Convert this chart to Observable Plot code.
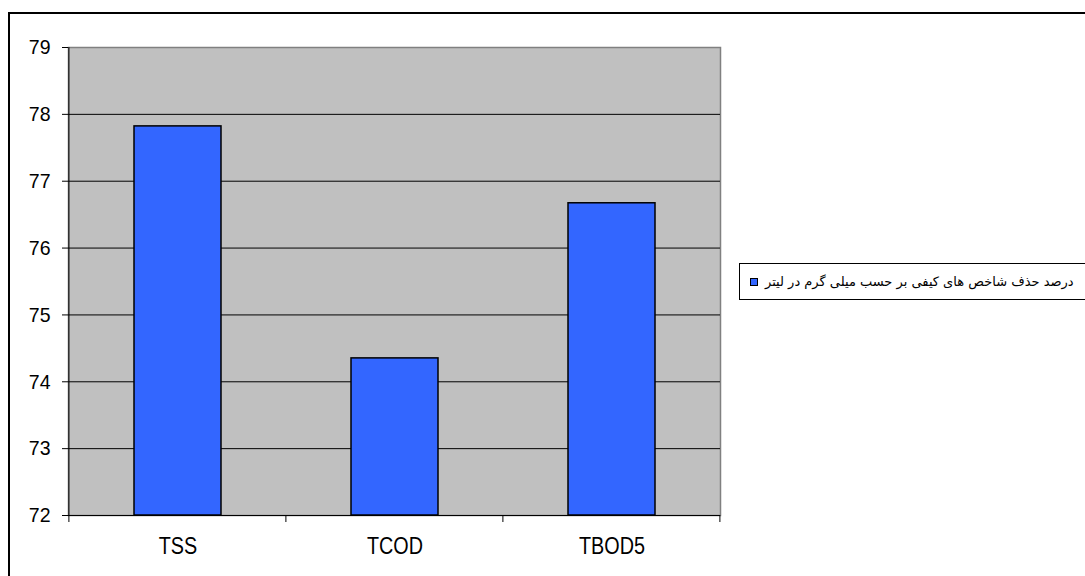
<!DOCTYPE html>
<html>
<head>
<meta charset="utf-8">
<script src="https://cdn.jsdelivr.net/npm/d3@7"></script>
<script src="https://cdn.jsdelivr.net/npm/@observablehq/plot@0.6"></script>
<style>
  html, body { margin: 0; padding: 0; background: white; overflow: hidden; width: 1085px; height: 576px; }
  #frame { position: absolute; left: 8px; top: 12px; width: 1200px; height: 700px; border: 2px solid black; box-sizing: border-box; }
  #chart { position: absolute; left: 0; top: 0; }
  #chart svg { background: none !important; overflow: visible; }
  #legend { position: absolute; left: 739px; top: 263px; width: 500px; height: 37px; border: 1px solid black; box-sizing: border-box; background: white; white-space: nowrap; font-family: "DejaVu Sans", sans-serif; font-size: 13px; line-height: 17px; }
  #legend .key { position: absolute; left: 10px; top: 14px; width: 6px; height: 6px; background: #3366ff; border: 1px solid black; }
  #legend .txt { position: absolute; left: 25px; top: 9px; }
</style>
</head>
<body>
<div id="frame"></div>
<div id="chart"></div>
<div id="legend"><div class="key"></div><span class="txt" dir="rtl"></span></div>
<script>
const categories = ["TSS", "TCOD", "TBOD5"];
const values = [77.82, 74.35, 76.67];
const yTicks = [72, 73, 74, 75, 76, 77, 78, 79];
const gridValues = [73, 74, 75, 76, 77, 78];
const seriesName = "درصد حذف شاخص های کیفی بر حسب میلی گرم در لیتر";

const data = categories.map((c, i) => ({cat: c, value: values[i]}));
const font = '"Liberation Sans", Arial, sans-serif';

const chart = Plot.plot({
  width: 1085,
  height: 576,
  marginLeft: 68,
  marginRight: 365,
  marginTop: 47,
  marginBottom: 61,
  style: {fontFamily: font, fontSize: "21px", color: "black", background: "none"},
  x: {domain: categories, paddingInner: 0.6, paddingOuter: 0.3, label: null},
  y: {domain: [72, 79], label: null},
  marks: [
    Plot.frame({fill: "#c0c0c0", stroke: "#808080", strokeWidth: 1.5}),
    Plot.ruleY(gridValues, {stroke: "black", strokeWidth: 1}),
    Plot.barY(data, {x: "cat", y1: 72, y2: "value", fill: "#3366ff", stroke: "black", strokeWidth: 1.5}),
    Plot.ruleY([72], {stroke: "black", strokeWidth: 1}),
    Plot.axisY({ticks: yTicks, tickSize: 6, tickPadding: 12, tickFormat: d => String(d), stroke: "black", fontSize: 21}),
    Plot.axisX({tickSize: 0, tickPadding: 22, fontSize: 23})
  ]
});
document.getElementById("chart").appendChild(chart);

// horizontally condense the axis labels (the reference text is tall and narrow)
function condense(sel, factor) {
  d3.select(chart).selectAll(sel).each(function() {
    const w = this.getComputedTextLength();
    this.setAttribute("textLength", (w * factor).toFixed(1));
    this.setAttribute("lengthAdjust", "spacingAndGlyphs");
  });
}
condense('g[aria-label="x-axis tick label"] text', 0.86);
condense('g[aria-label="y-axis tick label"] text', 0.93);

// axis line and category-boundary ticks through the library's scales
const xs = chart.scale("x");
const ys = chart.scale("y");
const svg = d3.select(chart);
const y0 = ys.apply(72), y1 = ys.apply(79);
const step = xs.step;
const left = xs.apply(categories[0]) - xs.paddingOuter * step;
svg.append("line").attr("x1", left).attr("x2", left).attr("y1", y0).attr("y2", y1).attr("stroke", "black");
const bounds = d3.range(categories.length + 1).map(i => left + i * step);
svg.selectAll("line.btick").data(bounds).join("line")
  .attr("class", "btick")
  .attr("x1", d => d).attr("x2", d => d)
  .attr("y1", y0).attr("y2", y0 + 7)
  .attr("stroke", "black");

document.querySelector("#legend .txt").textContent = seriesName;
</script>
</body>
</html>
